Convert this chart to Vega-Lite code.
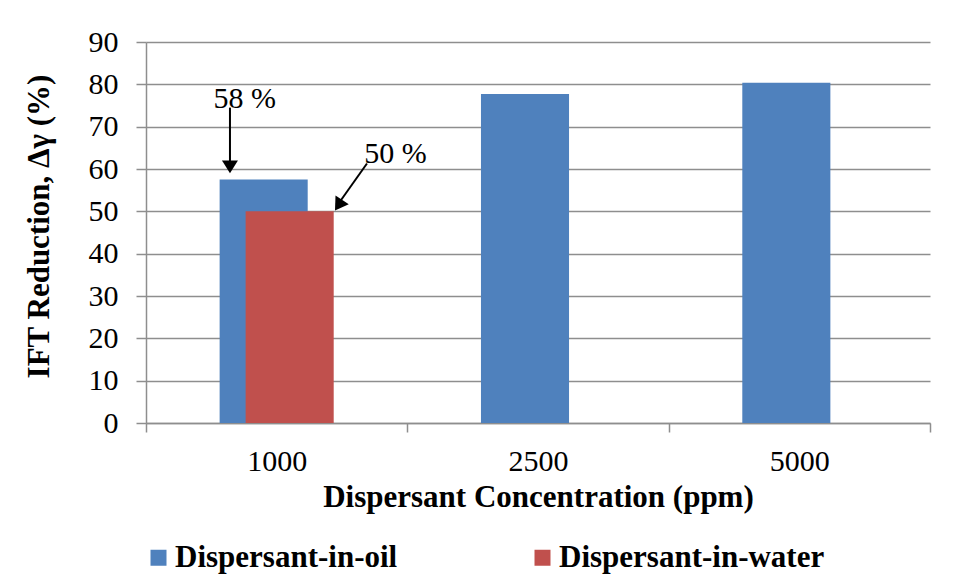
{
  "$schema": "https://vega.github.io/schema/vega-lite/v6.json",
  "width": 784,
  "height": 381,
  "autosize": "none",
  "padding": {"left": 146, "top": 42, "right": 29, "bottom": 162},
  "background": "white",
  "datasets": {
    "bars": [
      {"conc": "1000", "series": "Dispersant-in-oil", "value": 57.5},
      {"conc": "2500", "series": "Dispersant-in-oil", "value": 77.7},
      {"conc": "5000", "series": "Dispersant-in-oil", "value": 80.4},
      {"conc": "1000", "series": "Dispersant-in-water", "value": 50}
    ],
    "notes": [
      {"conc": "1000", "label": "58 %", "textY": 74.5, "fromY": 74.5, "toY": 61.5, "headY": 60.5},
      {"conc": "1000", "label": "50 %", "textY": 61.5, "fromY": 61.3, "toY": 52.2, "headY": 51.45}
    ]
  },
  "layer": [
    {
      "data": {"name": "bars"},
      "transform": [{"filter": "datum.series === 'Dispersant-in-oil'"}],
      "mark": {"type": "bar", "width": {"band": 0.337}, "xOffset": -13},
      "encoding": {
        "x": {"field": "conc", "type": "nominal", "sort": ["1000", "2500", "5000"],
              "scale": {"paddingInner": 0, "paddingOuter": 0},
              "axis": {"title": "Dispersant Concentration (ppm)", "labelAngle": 0, "tickBand": "extent", "tickSize": 9, "labelPadding": 14, "titlePadding": 6, "grid": false}},
        "y": {"field": "value", "type": "quantitative",
              "scale": {"domain": [0, 90], "nice": false},
              "axis": {"title": "IFT Reduction, Δγ (%)", "values": [0,10,20,30,40,50,60,70,80,90], "tickSize": 10, "labelPadding": 18, "titlePadding": 33, "titleY": 184, "grid": true}},
        "color": {"field": "series", "type": "nominal",
                  "scale": {"domain": ["Dispersant-in-oil", "Dispersant-in-water"], "range": ["#4F81BD", "#C0504D"]},
                  "legend": {"title": null, "orient": "none", "direction": "horizontal", "legendX": -3, "legendY": 500, "columns": 2, "columnPadding": 129}}
      }
    },
    {
      "data": {"name": "bars"},
      "transform": [{"filter": "datum.series === 'Dispersant-in-water'"}],
      "mark": {"type": "bar", "width": {"band": 0.337}, "xOffset": 13},
      "encoding": {
        "x": {"field": "conc", "type": "nominal", "sort": ["1000", "2500", "5000"]},
        "y": {"field": "value", "type": "quantitative"},
        "color": {"field": "series", "type": "nominal"}
      }
    },
    {
      "data": {"name": "notes"},
      "transform": [{"filter": "datum.label === '58 %'"}],
      "layer": [
        {"mark": {"type": "text", "dx": -32, "baseline": "alphabetic", "align": "center", "font": "Liberation Serif", "fontSize": 30, "color": "black"},
         "encoding": {"x": {"field": "conc", "type": "nominal"}, "y": {"field": "textY", "type": "quantitative"}, "text": {"field": "label"}}},
        {"mark": {"type": "rule", "xOffset": -46.7, "color": "black", "strokeWidth": 2},
         "encoding": {"x": {"field": "conc", "type": "nominal"}, "y": {"field": "fromY", "type": "quantitative"}, "y2": {"field": "toY"}}},
        {"mark": {"type": "point", "shape": "M -1 -0.8 L 1 -0.8 L 0 0.8 Z", "size": 256, "filled": true, "color": "black", "opacity": 1, "strokeWidth": 0, "xOffset": -46.7},
         "encoding": {"x": {"field": "conc", "type": "nominal"}, "y": {"field": "headY", "type": "quantitative"}}}
      ]
    },
    {
      "data": {"name": "notes"},
      "transform": [{"filter": "datum.label === '50 %'"}],
      "layer": [
        {"mark": {"type": "text", "dx": 118.8, "baseline": "alphabetic", "align": "center", "font": "Liberation Serif", "fontSize": 30, "color": "black"},
         "encoding": {"x": {"field": "conc", "type": "nominal"}, "y": {"field": "textY", "type": "quantitative"}, "text": {"field": "label"}}},
        {"mark": {"type": "rule", "xOffset": 90.3, "x2Offset": 63, "color": "black", "strokeWidth": 2},
         "encoding": {"x": {"field": "conc", "type": "nominal"}, "x2": {"field": "conc"}, "y": {"field": "fromY", "type": "quantitative"}, "y2": {"field": "toY"}}},
        {"mark": {"type": "point", "shape": "M -1 -0.8 L 1 -0.8 L 0 0.8 Z", "size": 256, "filled": true, "color": "black", "opacity": 1, "strokeWidth": 0, "xOffset": 61.9, "angle": 34},
         "encoding": {"x": {"field": "conc", "type": "nominal"}, "y": {"field": "headY", "type": "quantitative"}}}
      ]
    }
  ],
  "config": {
    "view": {"stroke": null},
    "font": "Liberation Serif",
    "axis": {
      "labelFont": "Liberation Serif", "labelFontSize": 30, "labelColor": "black",
      "titleFont": "Liberation Serif", "titleFontSize": 31, "titleFontWeight": "bold", "titleColor": "black",
      "domainColor": "#8E8E8E", "domainWidth": 1.5,
      "tickColor": "#8E8E8E", "tickWidth": 1.5,
      "gridColor": "#8E8E8E", "gridWidth": 1.5, "gridOpacity": 1
    },
    "legend": {
      "labelFont": "Liberation Serif", "labelFontSize": 31, "labelFontWeight": "bold", "labelColor": "black",
      "symbolType": "square", "symbolSize": 256, "symbolStrokeWidth": 0, "symbolOpacity": 1,
      "labelOffset": 1, "labelLimit": 400, "padding": 0
    }
  }
}
